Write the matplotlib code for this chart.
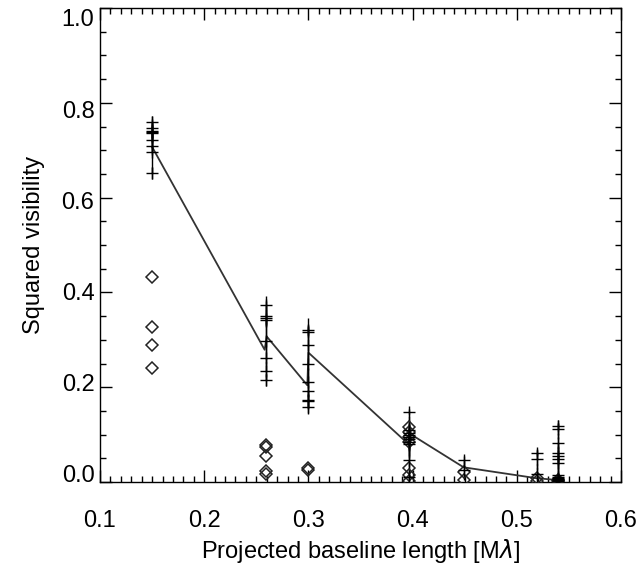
import matplotlib
matplotlib.use("Agg")
import matplotlib.pyplot as plt
from matplotlib.ticker import MultipleLocator
from matplotlib.transforms import ScaledTranslation
import numpy as np

plt.rcParams['font.family'] = ['Liberation Sans', 'DejaVu Sans']
plt.rcParams['mathtext.fontset'] = 'dejavusans'

# Measured squared visibilities (crosses) with error bars
cross_x = [0.150] * 9 + [0.259] * 8 + [0.300] * 9 + [0.397] * 10 + [0.449] * 2 + [0.519] * 3 + [0.540] * 13
cross_y = [0.759, 0.746, 0.740, 0.738, 0.736, 0.722, 0.709, 0.696, 0.652,
           0.374, 0.351, 0.346, 0.342, 0.297, 0.262, 0.235, 0.216,
           0.321, 0.316, 0.288, 0.248, 0.211, 0.192, 0.174, 0.171, 0.158,
           0.148, 0.110, 0.104, 0.100, 0.095, 0.090, 0.085, 0.080, 0.047, 0.010,
           0.046, 0.025,
           0.062, 0.048, 0.017,
           0.118, 0.111, 0.083, 0.062, 0.055, 0.048, 0.041, 0.015, 0.010, 0.008, 0.006, 0.004, 0.002]
cross_err = [0.014, 0.02, 0.02, 0.02, 0.02, 0.02, 0.02, 0.045, 0.012,
             0.008, 0.02, 0.02, 0.05, 0.04, 0.03, 0.02, 0.014,
             0.011, 0.03, 0.04, 0.04, 0.03, 0.02, 0.02, 0.015, 0.015,
             0.006, 0.03, 0.03, 0.03, 0.03, 0.03, 0.03, 0.03, 0.04, 0.03,
             0.008, 0.02,
             0.008, 0.02, 0.02,
             0.006, 0.02, 0.02, 0.02, 0.02, 0.02, 0.02, 0.02, 0.01, 0.01, 0.005, 0.005, 0.005]

# Second data set (diamonds)
diam_x = [0.150] * 4 + [0.259] * 5 + [0.300] * 2 + [0.397] * 7 + [0.449] * 2 + [0.519] * 2 + [0.540] * 2
diam_y = [0.432, 0.326, 0.288, 0.241,
          0.078, 0.073, 0.055, 0.024, 0.017,
          0.030, 0.025,
          0.115, 0.105, 0.095, 0.085, 0.030, 0.015, 0.003,
          0.022, 0.005,
          0.008, 0.003,
          0.004, 0.002]

# Model curve
model_x = [0.150, 0.258, 0.260, 0.299, 0.300, 0.396, 0.398, 0.449, 0.519, 0.540]
model_y = [0.707, 0.279, 0.307, 0.204, 0.273, 0.080, 0.101, 0.031, 0.008, 0.004]

fig = plt.figure(figsize=(6.39, 5.67), dpi=100)
ax = fig.add_axes([100 / 639, 85 / 567, 521 / 639, 474 / 567])

ax.plot(model_x, model_y, color='#333333', lw=1.3, zorder=2)
ax.errorbar(cross_x, cross_y, yerr=cross_err, fmt='+', color='black',
            ms=8, mew=1.0, elinewidth=1.0, capsize=0, zorder=3)
ax.plot(diam_x, diam_y, 'D', ms=6.3, mfc='none', mec='#222222', mew=1.1, zorder=3)

ax.set_xlim(0.1, 0.6)
ax.set_ylim(0.0, 1.0)
ax.xaxis.set_major_locator(MultipleLocator(0.1))
ax.xaxis.set_minor_locator(MultipleLocator(0.01))
ax.yaxis.set_major_locator(MultipleLocator(0.2))
ax.yaxis.set_minor_locator(MultipleLocator(0.05))
ax.xaxis.set_major_formatter(plt.FuncFormatter(lambda v, p: f"{v:.1f}"))
ax.yaxis.set_major_formatter(plt.FuncFormatter(lambda v, p: f"{v:.1f}"))

ax.tick_params(axis='both', which='both', direction='in', top=True, right=True, width=1.0)
ax.tick_params(axis='both', which='major', length=8.6, labelsize=17)
ax.tick_params(axis='both', which='minor', length=4.3)
ax.tick_params(axis='x', which='major', pad=20)
ax.tick_params(axis='y', which='major', pad=4)
for s in ax.spines.values():
    s.set_linewidth(1.0)

# IDL-style vertical placement of the y tick labels (slightly compressed toward the centre)
fig.canvas.draw()
for tick in ax.yaxis.get_major_ticks():
    v = tick.get_loc()
    shift_px = -8 + 18 * v
    tick.label1.set_transform(tick.label1.get_transform() +
                              ScaledTranslation(0, -shift_px / 100, fig.dpi_scale_trans))

ax.set_xlabel("Projected baseline length [M$\\lambda$]", fontsize=17, labelpad=4)
ax.set_ylabel("Squared visibility", fontsize=17, labelpad=12)

fig.savefig("out.png", dpi=100)
